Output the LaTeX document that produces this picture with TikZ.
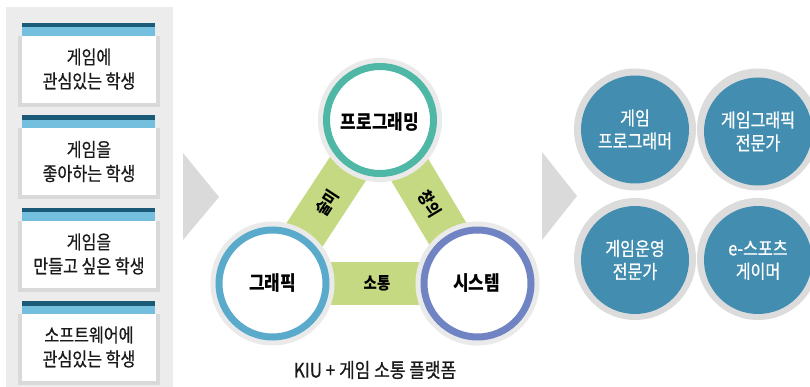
\documentclass[tikz,border=0pt]{standalone}
\usepackage{fontspec}
\usetikzlibrary{calc}
\setmainfont{Noto Sans CJK KR}[FakeStretch=0.85]
\newfontfamily\medfont{Noto Sans CJK KR}[FakeStretch=0.85,FakeBold=0.6]
\definecolor{panelgray}{RGB}{236,236,236}
\definecolor{cardframe}{RGB}{217,217,217}
\definecolor{darkbar}{RGB}{28,91,119}
\definecolor{lightbar}{RGB}{116,190,222}
\definecolor{chevron}{RGB}{218,218,218}
\definecolor{barGreen}{RGB}{197,217,130}
\definecolor{ringGray}{RGB}{234,234,234}
\definecolor{tealRing}{RGB}{78,183,165}
\definecolor{blueRing}{RGB}{90,170,203}
\definecolor{purpleRing}{RGB}{112,132,195}
\definecolor{careerFill}{RGB}{67,142,176}
\definecolor{careerRing}{RGB}{220,220,220}
\definecolor{txt}{RGB}{26,26,26}
\begin{document}
\begin{tikzpicture}[x=1pt,y=-1pt,
  cardtext/.style={text=txt,font=\medfont\fontsize{19}{24}\selectfont,align=center,inner sep=0pt},
  hubouter/.style={circle,fill=ringGray,minimum size=124pt,inner sep=0pt},
  hubring/.style={circle,draw=#1,line width=7pt,fill=white,minimum size=107pt,inner sep=0pt},
  hubtext/.style={text=black,font=\bfseries\fontsize{20}{22}\selectfont,inner sep=0pt},
  bartext/.style={text=black,font=\bfseries\fontsize{17}{19}\selectfont,inner sep=0pt},
  greenbar/.style={draw=barGreen,line width=43pt},
  careerouter/.style={circle,fill=careerRing,minimum size=122pt,inner sep=0pt},
  careerdisc/.style={circle,fill=careerFill,minimum size=108pt,inner sep=0pt,
     text=white,font=\medfont\fontsize{19}{23}\selectfont,align=center},
  chev/.style={fill=chevron}
]
\useasboundingbox (0,0) rectangle (810,387);
\clip (0,0) rectangle (810,387);
\fill[white] (0,0) rectangle (810,387);

% left panel
\fill[panelgray] (6,7) rectangle (173,387);

% cards
\foreach \t/\la/\lb [count=\i] in {23/게임에/관심있는 학생, 115.5/게임을/좋아하는 학생, 208/게임을/만들고 싶은 학생, 301/소프트웨어에/관심있는 학생}{
  \fill[darkbar] (22,\t) rectangle (155,\t+4.5);
  \fill[lightbar] (22,\t+4.5) rectangle (155,\t+13);
  \fill[cardframe] (18,\t+13) rectangle (160,\t+84);
  \fill[white] (22,\t+13) rectangle (156,\t+80);
  \node[cardtext] (card\i a) at (89,\t+34) {\la};
  \node[cardtext] (card\i b) at (89,\t+58) {\lb};
}

% chevrons
\fill[chev] (183,153) -- (219,197) -- (183,240) -- cycle;
\fill[chev] (542,152) -- (577,196) -- (542,240) -- cycle;

% hub positions
\coordinate (pT) at (380,120);
\coordinate (pL) at (272.5,283.5);
\coordinate (pR) at (477.5,283.5);

% connecting bars
\draw[greenbar] (pT) -- (pL);
\draw[greenbar] (pT) -- (pR);
\draw[greenbar] (pL) -- (pR);

% hubs
\node[hubouter] (oT) at (pT) {};
\node[hubring=tealRing] (rT) at (pT) {};
\node[hubtext] (tT) at ($(pT)+(0,2)$) {프로그래밍};
\node[hubouter] (oL) at (pL) {};
\node[hubring=blueRing] (rL) at (pL) {};
\node[hubtext] (tL) at (pL) {그래픽};
\node[hubouter] (oR) at (pR) {};
\node[hubring=purpleRing] (rR) at (pR) {};
\node[hubtext] (tR) at ($(pR)+(-1,0)$) {시스템};

% bar labels
\node[bartext] (b1) at (377,283) {소통};
\node[bartext,rotate=-59] (b2) at (430,204) {창의};
\node[bartext,rotate=57] (b3) at (327,203) {술미};

% caption
\node[text=txt,font=\medfont\fontsize{20}{22}\selectfont,inner sep=0pt] (cap) at (375,370) {KIU + 게임 소통 플랫폼};

% career circles
\node[careerouter] (c1o) at (635,129.5) {};
\node[careerdisc] (c1) at (635,129.5) {게임\\프로그래머};
\node[careerouter] (c2o) at (758,129.5) {};
\node[careerdisc] (c2) at (758,131.5) {게임그래픽\\전문가};
\node[careerouter] (c3o) at (635,259) {};
\node[careerdisc] (c3) at (635,260) {게임운영\\전문가};
\node[careerouter] (c4o) at (758,259) {};
\node[careerdisc] (c4) at (758,260) {e-스포츠\\게이머};
\end{tikzpicture}
\end{document}
